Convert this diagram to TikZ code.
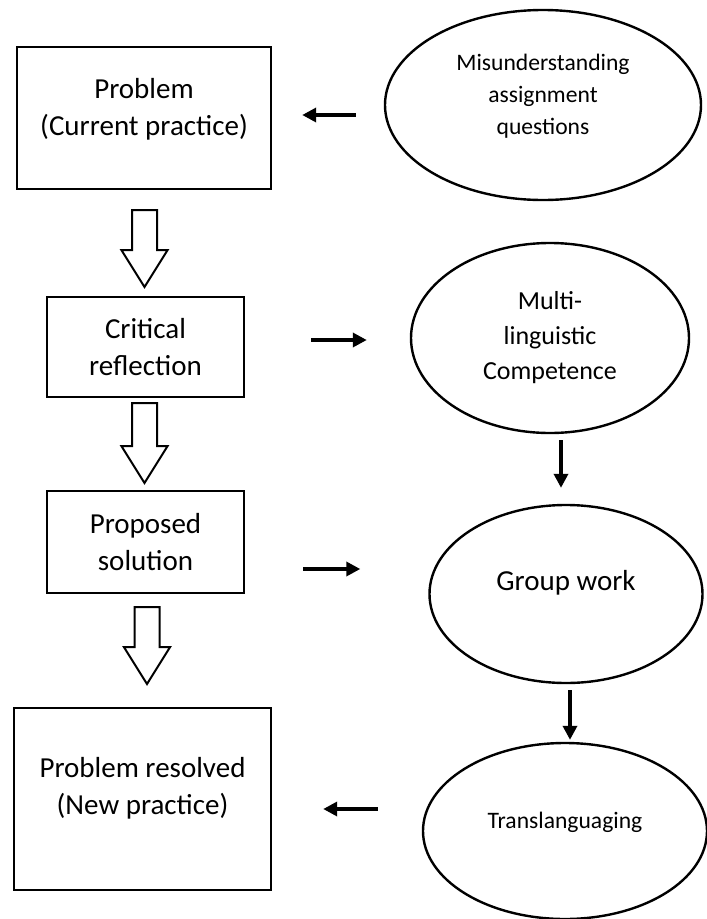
\documentclass[tikz,border=0pt]{standalone}
\usepackage{fontspec}
\setmainfont{Carlito}
\usetikzlibrary{arrows.meta}
\usetikzlibrary{shapes.geometric, shapes.arrows}

\begin{document}
\begin{tikzpicture}[x=1pt, y=-1pt,
  stage/.style={draw, line width=2.4pt, align=center, inner sep=0pt, font=\fontsize{29}{37}\selectfont},
  cause/.style={ellipse, draw, line width=2.4pt, align=center, inner sep=0pt},
  link/.style={-{Triangle[length=14pt,width=14pt]}, line width=3.4pt},
  hollow/.style={single arrow, draw, line width=2pt, rotate=-90, inner xsep=0pt, inner ysep=11.5pt, minimum height=77pt, minimum width=44pt, single arrow head extend=10.5pt, single arrow tip angle=64}]
\useasboundingbox (0,0) rectangle (707,919);

\node[stage, minimum width=254pt, minimum height=142pt, text depth=23pt] at (144,118) (problem) {Problem\\(Current practice)};
\node[stage, minimum width=197pt, minimum height=100pt] at (145.5,347) (reflection) {Critical\\reflection};
\node[stage, minimum width=197pt, minimum height=102pt] at (145.5,542) (solution) {Proposed\\solution};
\node[stage, minimum width=257pt, minimum height=182pt, text depth=27pt] at (142.5,799) (resolved) {Problem resolved\\(New practice)};

\node[cause, minimum width=316pt, minimum height=190pt, text depth=21pt, font=\fontsize{23.6}{32}\selectfont] at (543,105) (misread) {Misunderstanding\\assignment\\questions};
\node[cause, minimum width=278pt, minimum height=190pt, font=\fontsize{26}{35}\selectfont] at (550,338) (competence) {Multi-\\linguistic\\Competence};
\node[cause, minimum width=273pt, minimum height=178pt, text depth=28pt, font=\fontsize{29}{37}\selectfont] at (566,594) (groupwork) {Group work};
\node[cause, minimum width=284pt, minimum height=176pt, text depth=21pt, font=\fontsize{23.6}{32}\selectfont] at (565,831) (translang) {Translanguaging};

% hollow arrows down the left column
\node[hollow] at (144.5,238.5) (down1) {};
\node[hollow, minimum height=80pt] at (144.5,433) (down2) {};
\node[hollow] at (147,635.5) (down3) {};

\draw[link, shorten <=28pt, shorten >=30pt] ([yshift=-10pt]misread.west) -- ([yshift=3pt]problem.east);
\draw[link, shorten <=66pt, shorten >=43pt] ([yshift=7pt]reflection.east) -- ([yshift=-2pt]competence.west);
\draw[link, shorten <=6pt, shorten >=16pt] ([xshift=11pt]competence.south) -- ([xshift=-5pt]groupwork.north);
\draw[link, shorten <=58pt, shorten >=68pt] ([yshift=-27pt]solution.east) -- ([yshift=25pt]groupwork.west);
\draw[link, shorten <=6pt, shorten >=2pt] ([xshift=4pt]groupwork.south) -- ([xshift=5pt]translang.north);
\draw[link, shorten <=44pt, shorten >=51pt] ([yshift=22pt]translang.west) -- ([yshift=-10pt]resolved.east);

\end{tikzpicture}
\end{document}
